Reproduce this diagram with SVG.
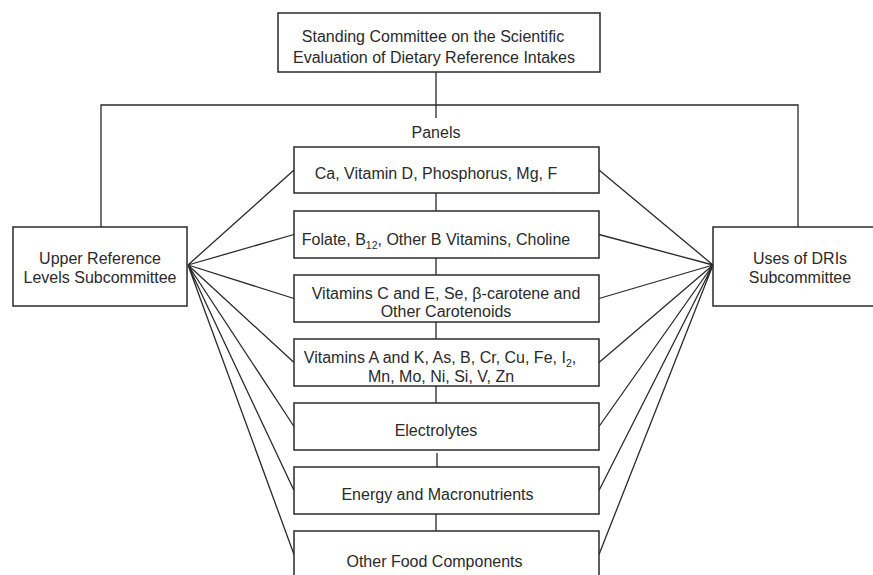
<svg xmlns="http://www.w3.org/2000/svg" width="873" height="575" viewBox="0 0 873 575">
<style>
.box{fill:#fff;stroke:#2a2a2a;stroke-width:1.5}
.ln{fill:none;stroke:#2a2a2a;stroke-width:1.3}
text{font-family:"Liberation Sans",Arial,sans-serif;font-size:16px;fill:#2a2a2a;text-anchor:middle}
.sub{font-size:10.5px}
</style>
<rect width="873" height="575" fill="#fff"/>
<g id="connectors">
<path class="ln" d="M436,72 V118 M101,227 V105 H798 V227"/>
<path class="ln" d="M436,193 V211 M436,258 V275 M436,322 V339 M436,386 V403 M437,453 V467 M436,514 V531"/>
<path class="ln" d="M188,265 L294,170 M188,265 L294,234.5 M188,265 L294,298.5 M188,265 L294,362.5 M188,265 L294,426.5 M188,265 L294,490.5 M188,265 L294,554.5"/>
<path class="ln" d="M713,265 L599,170 M713,265 L599,234.5 M713,265 L599,298.5 M713,265 L599,362.5 M713,265 L599,426.5 M713,265 L599,490.5 M713,265 L599,554.5"/>
</g>
<g id="standing">
<rect class="box" x="278" y="13" width="322" height="59"/>
<text x="433" y="41.5">Standing Committee on the Scientific</text>
<text x="434" y="62.5">Evaluation of Dietary Reference Intakes</text>
</g>
<g id="panels-label">
<text x="436" y="137.5">Panels</text>
</g>
<g id="upper">
<rect class="box" x="13" y="227" width="174" height="79"/>
<text x="100" y="263.5">Upper Reference</text>
<text x="100" y="282.5">Levels Subcommittee</text>
</g>
<g id="uses">
<rect class="box" x="713" y="227" width="174" height="79"/>
<text x="800" y="263.5">Uses of DRIs</text>
<text x="800" y="282.5">Subcommittee</text>
</g>
<g id="p1">
<rect class="box" x="294" y="147" width="305" height="46"/>
<text x="436" y="178.5">Ca, Vitamin D, Phosphorus, Mg, F</text>
</g>
<g id="p2">
<rect class="box" x="294" y="211" width="305" height="47"/>
<text x="436" y="244.5">Folate, B<tspan class="sub" dy="4">12</tspan><tspan dy="-4">, Other B Vitamins, Choline</tspan></text>
</g>
<g id="p3">
<rect class="box" x="294" y="275" width="305" height="47"/>
<text x="446" y="298.5">Vitamins C and E, Se, β-carotene and</text>
<text x="446" y="316.5">Other Carotenoids</text>
</g>
<g id="p4">
<rect class="box" x="294" y="339" width="305" height="47"/>
<text x="440" y="362.5">Vitamins A and K, As, B, Cr, Cu, Fe, I<tspan class="sub" dy="4">2</tspan><tspan dy="-4">,</tspan></text>
<text x="441" y="381.5">Mn, Mo, Ni, Si, V, Zn</text>
</g>
<g id="p5">
<rect class="box" x="294" y="403" width="305" height="47"/>
<text x="436" y="436">Electrolytes</text>
</g>
<g id="p6">
<rect class="box" x="294" y="467" width="305" height="47"/>
<text x="437.5" y="500">Energy and Macronutrients</text>
</g>
<g id="p7">
<rect class="box" x="294" y="531" width="305" height="50"/>
<text x="434.5" y="567">Other Food Components</text>
</g>
</svg>
